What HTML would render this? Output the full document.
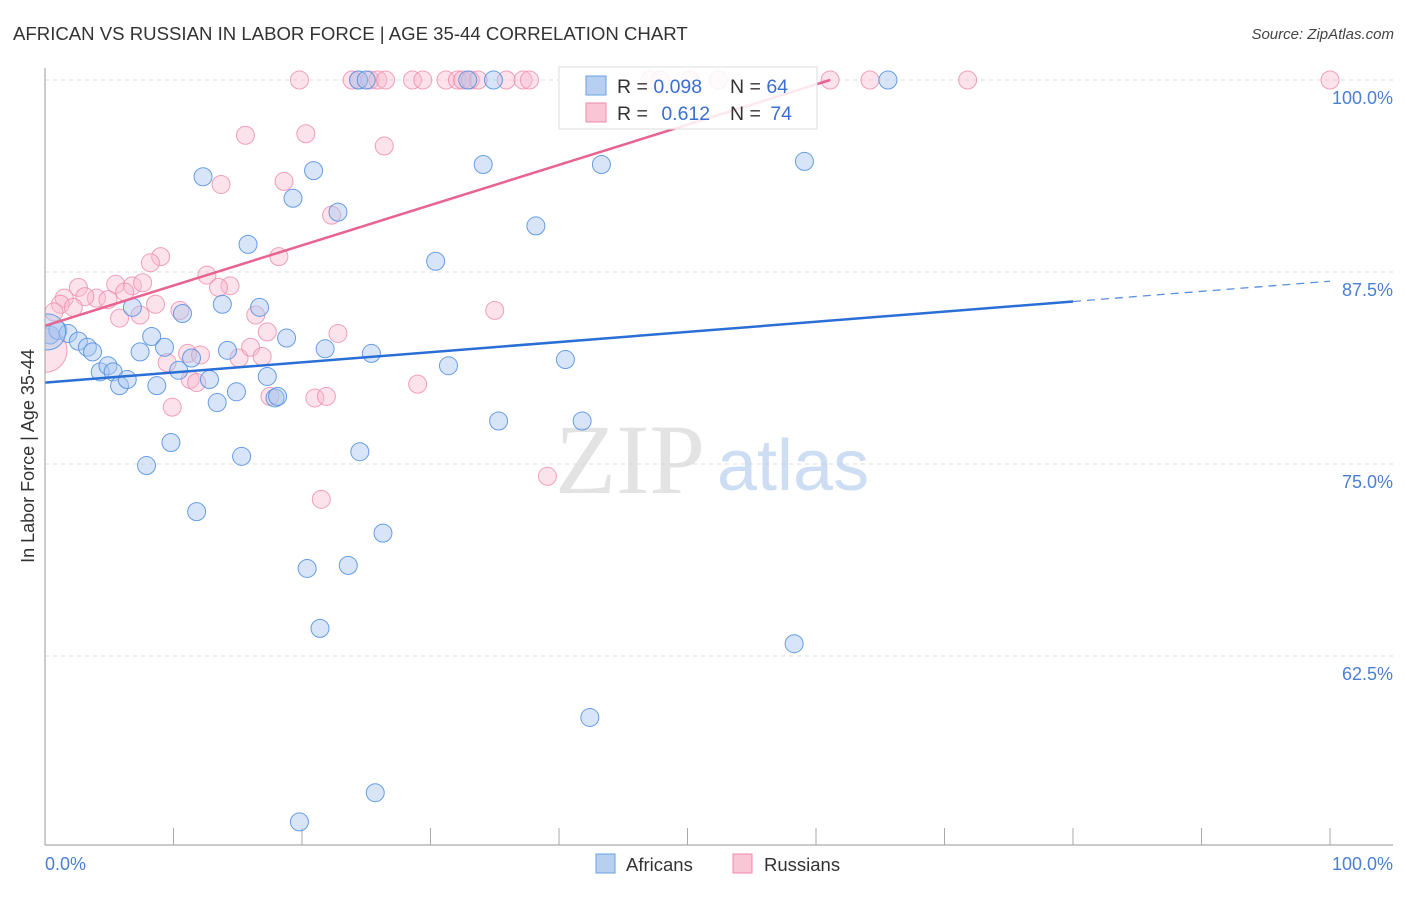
<!DOCTYPE html>
<html><head><meta charset="utf-8"><style>
body{margin:0;background:#fff;font-family:"Liberation Sans",sans-serif}
</style></head><body>
<svg id="chart" width="1406" height="892" xmlns="http://www.w3.org/2000/svg" font-family="Liberation Sans, sans-serif">
<defs><clipPath id="plotclip"><rect x="45" y="0" width="1361" height="845"/></clipPath></defs>
<text x="13" y="40" font-size="18.6" fill="#333">AFRICAN VS RUSSIAN IN LABOR FORCE | AGE 35-44 CORRELATION CHART</text>
<text x="1394" y="39" font-size="15" fill="#444" font-style="italic" text-anchor="end">Source: ZipAtlas.com</text>
<g id="grid"></g>
<text x="555" y="493" font-size="100" font-family="Liberation Serif, serif" fill="#d8d8d8" opacity="0.7">ZIP</text>
<text x="717" y="490" font-size="72" fill="#b9cfee" opacity="0.7">atlas</text>
<g id="pts" clip-path="url(#plotclip)"></g>
<g id="lines"></g>
<line x1="45" y1="68" x2="45" y2="845" stroke="#aaa" stroke-width="1.2"/>
<line x1="45" y1="845" x2="1393" y2="845" stroke="#aaa" stroke-width="1.2"/>
<text transform="translate(34,456) rotate(-90)" font-size="18" fill="#333" text-anchor="middle">In Labor Force | Age 35-44</text>
<text x="45" y="870" font-size="18" fill="#4a7fd4">0.0%</text>
<text x="1393" y="870" font-size="18" fill="#4a7fd4" text-anchor="end">100.0%</text>
<g>
<rect x="559" y="67" width="258" height="62" fill="#fff" fill-opacity="0.85" stroke="#ddd"/>
<rect x="586" y="76" width="20" height="19" fill="#b7d0f2" stroke="#6a9fe0"/>
<rect x="586" y="103" width="20" height="19" fill="#f9c6d6" stroke="#ee8aab"/>
<text x="617" y="93" font-size="19.5" fill="#333">R = <tspan fill="#3a6fd0">0.098</tspan></text>
<text x="730" y="93" font-size="19.5" fill="#333">N = <tspan fill="#3a6fd0">64</tspan></text>
<text x="617" y="120" font-size="19.5" fill="#333">R = <tspan fill="#3a6fd0" dx="8">0.612</tspan></text>
<text x="730" y="120" font-size="19.5" fill="#333">N = <tspan fill="#3a6fd0" dx="4">74</tspan></text>
</g>
<g><rect x="596" y="854" width="19" height="19" fill="#b7d0f2" stroke="#6a9fe0"/><text x="626" y="871" font-size="18.5" fill="#333">Africans</text></g>
<g><rect x="733" y="854" width="19" height="19" fill="#f9c6d6" stroke="#ee8aab"/><text x="764" y="871" font-size="18.5" fill="#333">Russians</text></g>
</svg>
<script>
const yTicks=[100,87.5,75,62.5];
const yTickLabels=["100.0%","87.5%","75.0%","62.5%"];
const xTicks=[10,20,30,40,50,60,70,80,90,100];
const afrX=[0.4,1.0,1.8,2.6,3.3,3.7,4.3,4.9,5.3,5.8,6.4,6.8,7.4,7.9,8.3,8.7,9.3,9.8,10.4,10.7,11.4,11.8,12.3,12.8,13.4,13.8,14.2,14.9,15.3,15.8,16.7,17.3,17.9,18.1,18.8,19.3,19.8,20.4,20.9,21.4,21.8,22.8,23.6,24.4,24.5,25.4,25.7,26.3,30.4,31.4,32.9,34.1,34.9,35.3,38.2,40.5,41.8,42.4,43.3,58.3,59.1,65.6,25.0,0.2];
const afrY=[83.4,83.7,83.5,83.0,82.6,82.3,81.0,81.4,81.0,80.1,80.5,85.2,82.3,74.9,83.3,80.1,82.6,76.4,81.1,84.8,81.9,71.9,93.7,80.5,79.0,85.4,82.4,79.7,75.5,89.3,85.2,80.7,79.3,79.4,83.2,92.3,51.7,68.2,94.1,64.3,82.5,91.4,68.4,100,75.8,82.2,53.6,70.5,88.2,81.4,100,94.5,100,77.8,90.5,81.8,77.8,58.5,94.5,63.3,94.7,100,100,83.6];
const afrR=[9,9,9,9,9,9,9,9,9,9,9,9,9,9,9,9,9,9,9,9,9,9,9,9,9,9,9,9,9,9,9,9,9,9,9,9,9,9,9,9,9,9,9,9,9,9,9,9,9,9,9,9,9,9,9,9,9,9,9,9,9,9,9,18];
const rusX=[19.8,23.9,24.4,25.3,25.9,26.5,28.6,29.4,31.2,32.1,32.5,33.1,33.7,35.9,37.2,37.7,47.1,47.9,50.2,52.4,61.1,64.2,71.8,100,15.6,20.3,26.4,13.7,18.6,22.3,9.0,8.2,18.2,12.6,2.6,5.5,6.8,7.6,14.4,13.5,1.5,4.0,3.1,4.9,6.2,1.2,2.2,8.6,10.5,7.4,5.8,16.4,17.3,22.8,9.5,11.1,12.1,15.1,16.0,16.9,11.3,11.8,9.9,17.5,21.0,21.9,29.0,35.0,21.5,39.1,0.7,0.0];
const rusY=[100,100,100,100,100,100,100,100,100,100,100,100,100,100,100,100,100,100,100,100,100,100,100,100,96.4,96.5,95.7,93.2,93.4,91.2,88.5,88.1,88.5,87.3,86.5,86.7,86.6,86.8,86.6,86.5,85.8,85.8,85.9,85.7,86.2,85.4,85.2,85.4,85.0,84.7,84.5,84.7,83.6,83.5,81.6,82.2,82.1,81.9,82.6,82.0,80.5,80.3,78.7,79.4,79.3,79.4,80.2,85.0,72.7,74.2,84.9,82.4];
const afrTrend=[80.3,86.9];
const rusTrend=[84.0,100];
const X=v=>45+v*12.85, Y=v=>80+(100-v)*15.36;
const NS="http://www.w3.org/2000/svg";
function mk(tag,attrs,parent){const e=document.createElementNS(NS,tag);for(const k in attrs)e.setAttribute(k,attrs[k]);parent.appendChild(e);return e;}
const grid=document.getElementById('grid'),pts=document.getElementById('pts'),lines=document.getElementById('lines');
yTicks.forEach((t,i)=>{
 const l=mk('line',{x1:45,x2:1393,y1:Y(t),y2:Y(t),stroke:'#ddd','stroke-dasharray':'4,4'},grid);
 
 
 const tx=mk('text',{x:1393,y:Y(t)+24,'font-size':18,fill:'#4a7fd4','text-anchor':'end'},grid);
 tx.textContent=yTickLabels[i];
 
 
});
xTicks.forEach(t=>{
 const l=mk('line',{x1:X(t),x2:X(t),y1:828,y2:845,stroke:'#aaa'},grid);
 
 
});
rusX.forEach((v,i)=>{
 const c=mk('circle',{cx:X(v),cy:Y(rusY[i]),r:i==rusX.length-1?22:9,fill:'#f7b8cc','fill-opacity':0.4,stroke:'#ee8aab','stroke-opacity':0.8},pts);
 
 
});
afrX.forEach((v,i)=>{
 const c=mk('circle',{cx:X(v),cy:Y(afrY[i]),r:afrR[i],fill:'#a9c6ef','fill-opacity':0.45,stroke:'#4f8ee0','stroke-opacity':0.85},pts);
 
 
});
const aAt=x=>afrTrend[0]+(afrTrend[1]-afrTrend[0])*x/100;
let l1=mk('line',{x1:X(0),y1:Y(aAt(0)),x2:X(80),y2:Y(aAt(80)),stroke:'#2a6fd6','stroke-width':2.5},lines);


let l2=mk('line',{x1:X(80),y1:Y(aAt(80)),x2:X(100),y2:Y(aAt(100)),stroke:'#5a8fdc','stroke-width':1.3,'stroke-dasharray':'8,6'},lines);


const rEnd=61.1;
let l3=mk('line',{x1:X(0),y1:Y(rusTrend[0]),x2:X(rEnd),y2:Y(rusTrend[1]),stroke:'#e8638f','stroke-width':2.5},lines);


</script>
</body></html>
